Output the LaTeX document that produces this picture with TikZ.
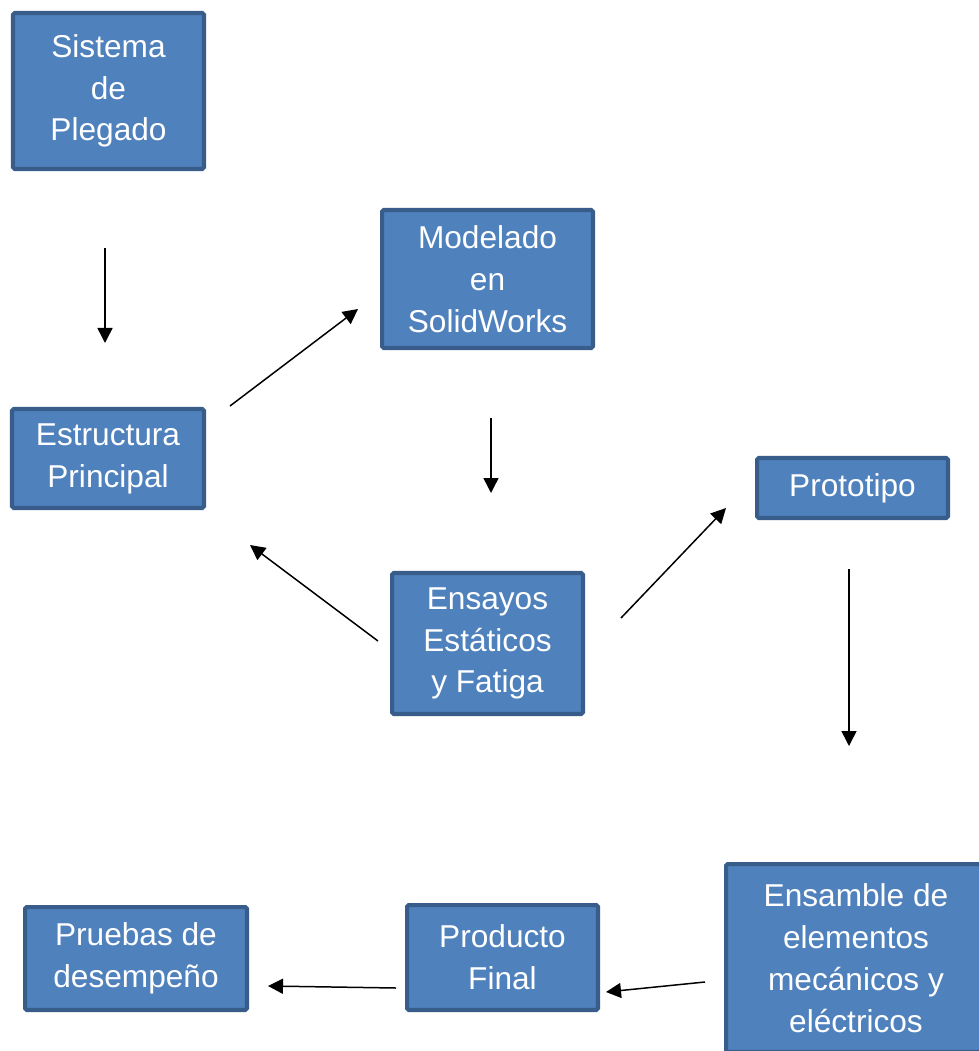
\documentclass[tikz,border=0pt]{standalone}
\usepackage{fontspec}
\setmainfont{Liberation Sans}
\usetikzlibrary{arrows.meta}
\definecolor{cajaFill}{HTML}{4F81BD}
\definecolor{cajaBorde}{HTML}{385D8A}
\begin{document}
\begin{tikzpicture}[x=0.02cm,y=-0.02cm,
    caja/.style={draw=cajaBorde, fill=cajaFill, line width=2.3pt, rounded corners=1pt,
      text=white, align=center, inner sep=0pt,
      font=\fontsize{18}{23.8}\selectfont},
    flecha/.style={line width=0.85pt, -{Triangle[length=0.3cm,width=0.3cm]}}]
    \useasboundingbox (0,0) rectangle (979,1051);
    \clip (0,0) rectangle (979,1051);
    \node[caja, minimum width=3.82cm, minimum height=3.12cm] (plegado) at (108.5,91) {Sistema\\de\\Plegado};
    \node[caja, minimum width=4.22cm, minimum height=2.76cm] (modelado) at (487.5,279) {Modelado\\en\\SolidWorks};
    \node[caja, minimum width=3.84cm, minimum height=1.98cm] (estructura) at (108,458.5) {Estructura\\Principal};
    \node[caja, minimum width=3.82cm, minimum height=1.20cm] (prototipo) at (852.5,488) {Prototipo};
    \node[caja, minimum width=3.82cm, minimum height=2.82cm] (ensayos) at (487.5,643.5) {Ensayos\\Estáticos\\y Fatiga};
    \node[caja, minimum width=5.20cm, minimum height=3.76cm] (ensamble) at (856,958) {Ensamble de\\elementos\\mecánicos y\\eléctricos};
    \node[caja, minimum width=4.44cm, minimum height=2.06cm] (pruebas) at (136,958.5) {Pruebas de\\desempeño};
    \node[caja, minimum width=3.82cm, minimum height=2.10cm] (producto) at (502.5,957.5) {Producto\\Final};
    % flechas
    \draw[flecha] ([shift={(-3.5,77)}]plegado.south) -- ([shift={(-3,-64)}]estructura.north);
    \draw[flecha] ([shift={(24,-1)}]estructura.north east) -- ([shift={(-22,-41)}]modelado.south west);
    \draw[flecha] ([shift={(3.5,68)}]modelado.south) -- ([shift={(3.5,-78)}]ensayos.north);
    \draw[flecha] ([shift={(-12,-2.5)}]ensayos.west) -- ([shift={(44,35)}]estructura.south east);
    \draw[flecha] ([shift={(36,-25.5)}]ensayos.east) -- ([shift={(-29,-12)}]prototipo.south west);
    \draw[flecha] ([shift={(-3.5,49)}]prototipo.south) -- ([shift={(-7,-116)}]ensamble.north);
    \draw[flecha] ([shift={(-19,24)}]ensamble.west) -- ([shift={(6,34.5)}]producto.east);
    \draw[flecha] ([shift={(-9,30.5)}]producto.west) -- ([shift={(19,27.5)}]pruebas.east);
  \end{tikzpicture}
\end{document}
